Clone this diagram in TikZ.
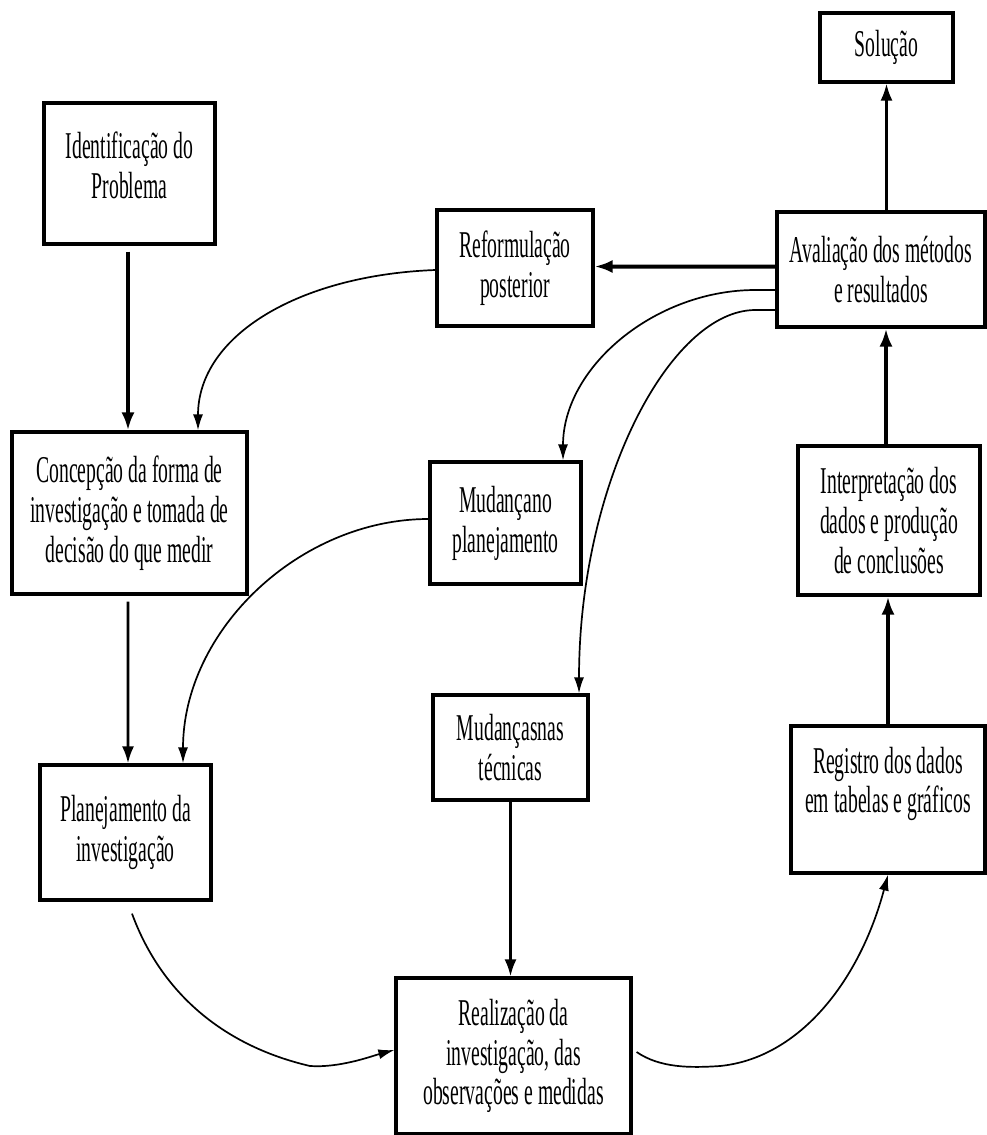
\documentclass[tikz,border=0pt]{standalone}
\usepackage{fontspec}
\setmainfont{Liberation Serif}[FakeStretch=0.52]
\usetikzlibrary{arrows.meta,calc}
\begin{document}
\begin{tikzpicture}[x=1bp,y=-1bp,
  txt/.style={align=center,inner sep=0pt,font=\fontsize{38}{40}\selectfont},
  box/.style={draw,line width=3.2bp,txt},
  arrthick/.style={line width=4bp,-{Latex[length=18bp,width=13bp]}},
  arrmid/.style={line width=2.6bp,-{Latex[length=17bp,width=12bp]}},
  arrthin/.style={line width=1.7bp,-{Latex[length=16bp,width=10bp]}}
]
\useasboundingbox (0,0) rectangle (987,1135);

\node[box,minimum width=133bp,minimum height=69bp] (sol) at (886.5,47.5) {Solução};
\node[box,minimum width=171bp,minimum height=141bp,
  label={[txt,yshift=8.5bp]center:Identificação do\\Problema}] (iden) at (129.5,173.5) {};
\node[box,minimum width=156bp,minimum height=116bp] (ref) at (515,268) {Reformulação\\posterior};
\node[box,minimum width=208bp,minimum height=115bp] (ava) at (881,269.5) {Avaliação dos métodos\\e resultados};
\node[box,minimum width=235bp,minimum height=162bp] (conc) at (129.5,513) {Concepção da forma de\\investigação e tomada de\\decisão do que medir};
\node[box,minimum width=151bp,minimum height=122bp] (mpl) at (505.5,523) {Mudançano\\planejamento};
\node[box,minimum width=182bp,minimum height=149bp] (int) at (889,520.5) {Interpretação dos\\dados e produção\\de conclusões};
\node[box,minimum width=155bp,minimum height=105bp] (mtec) at (510.5,747.5) {Mudançasnas\\técnicas};
\node[box,minimum width=194bp,minimum height=147bp,
  label={[txt,yshift=15.5bp]center:Registro dos dados\\em tabelas e gráficos}] (reg) at (888,799.5) {};
\node[box,minimum width=171bp,minimum height=135bp] (plan) at (125.5,832.5) {Planejamento da\\investigação};
\node[box,minimum width=235bp,minimum height=156bp] (real) at (513.5,1056) {Realização da\\investigação, das\\observações e medidas};

% connectors
\draw[arrthick] ($(iden.south)+(-1.5,6)$) -- ($(conc.north)+(-1.5,0)$);
\draw[arrthin] ($(ref.west)+(0,2)$) .. controls (300,275) and (198,335) .. ($(conc.north)+(68.5,0)$);
\draw[arrthick] ($(ava.west)+(0,-3)$) -- ($(ref.east)+(0,-1.5)$);
\draw[arrthin] ($(ava.west)+(0,20.5)$) -- ++(-20,0) .. controls (655,290) and (563,367) .. ($(mpl.north)+(57.5,0)$);
\draw[arrthin] ($(ava.west)+(0,40.5)$) -- ++(-20,0) .. controls (670,310) and (579,483) .. ($(mtec.north)+(68.5,0)$);
\draw[arrmid] (sol.south |- ava.north) -- (sol.south);
\draw[arrthick] ($(int.north)+(-3,0)$) -- ($(ava.south)+(5,0)$);
\draw[arrthick] (reg.north) -- (reg.north |- int.south);
\draw[arrmid] ($(conc.south)+(-1.5,6)$) -- ($(plan.north)+(2.5,0)$);
\draw[arrthin] ($(mpl.west)+(0,-4)$) .. controls (300,519) and (183,630) .. ($(plan.north)+(57.5,0)$);
\draw[arrthin] ($(plan.south)+(6.5,12)$) .. controls (160,990) and (220,1045) .. (310,1066) .. controls (340,1068) and (372,1056) .. ($(real.west)+(0,-6)$);
\draw[arrmid] (mtec.south) -- (mtec.south |- real.north);
\draw[arrthin] ($(real.east)+(4,-4)$) .. controls (660,1068) and (690,1068) .. (720,1066) .. controls (800,1058) and (860,980) .. (reg.south);
\end{tikzpicture}
\end{document}
